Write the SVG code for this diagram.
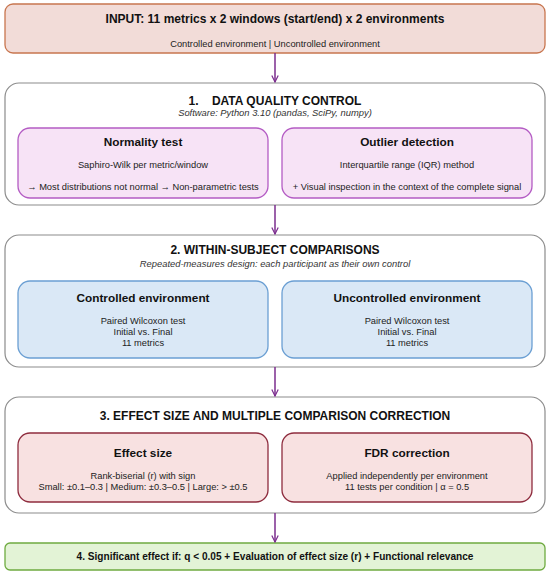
<svg xmlns="http://www.w3.org/2000/svg" width="550" height="575" viewBox="0 0 550 575">
<defs>
<marker id="arr" viewBox="0 0 10 10" refX="9" refY="5" markerWidth="8" markerHeight="8" orient="auto" markerUnits="userSpaceOnUse">
<path d="M1,1 L9,5 L1,9" fill="none" stroke="#7b2d8e" stroke-width="1.5"/>
</marker>
<style>
text{font-family:"Liberation Sans",Arial,sans-serif;text-anchor:middle;fill:#111}
.t{font-weight:bold;font-size:12px}
.h{font-weight:bold;font-size:11.8px}
.s{font-size:9.3px;fill:#222}
.i{font-size:9.4px;font-style:italic;fill:#333}
.outer{fill:#fff;stroke:#8c8c8c;stroke-width:1.2}
.pur{fill:#f7e3f6;stroke:#b45cc4;stroke-width:1.3}
.blu{fill:#dae8f6;stroke:#6b9fd3;stroke-width:1.3}
.red{fill:#f8e1e1;stroke:#8e2c3e;stroke-width:1.3}
.c{stroke:#7b2d8e;stroke-width:1.5;fill:none}
</style>
</defs>
<g id="input">
<rect x="5" y="4" width="540" height="49" rx="8" fill="#f2dcd8" stroke="#c8764f" stroke-width="1.3"/>
<text class="t" x="275" y="23">INPUT: 11 metrics x 2 windows (start/end) x 2 environments</text>
<text class="s" x="275" y="47">Controlled environment | Uncontrolled environment</text>
</g>
<g id="stage1">
<rect class="outer" x="5" y="83" width="540" height="122" rx="14"/>
<text class="t" x="275" y="105" xml:space="preserve">1.    DATA QUALITY CONTROL</text>
<text class="i" x="275" y="116">Software: Python 3.10 (pandas, SciPy, numpy)</text>
</g>
<g id="normality">
<rect class="pur" x="18" y="128" width="250" height="70" rx="12"/>
<text class="h" x="143" y="146">Normality test</text>
<text class="s" x="143" y="168">Saphiro-Wilk per metric/window</text>
<text class="s" x="143" y="190">→ Most distributions not normal → Non-parametric tests</text>
</g>
<g id="outlier">
<rect class="pur" x="282" y="128" width="250" height="70" rx="12"/>
<text class="h" x="407" y="146">Outlier detection</text>
<text class="s" x="407" y="168">Interquartile range (IQR) method</text>
<text class="s" x="407" y="190">+ Visual inspection in the context of the complete signal</text>
</g>
<g id="stage2">
<rect class="outer" x="5" y="235" width="540" height="132" rx="14"/>
<text class="t" x="275" y="254">2. WITHIN-SUBJECT COMPARISONS</text>
<text class="i" x="275" y="267">Repeated-measures design: each participant as their own control</text>
</g>
<g id="controlled">
<rect class="blu" x="18" y="281" width="250" height="77" rx="12"/>
<text class="h" x="143" y="302">Controlled environment</text>
<text class="s" x="143" y="324">Paired Wilcoxon test</text>
<text class="s" x="143" y="335">Initial vs. Final</text>
<text class="s" x="143" y="346">11 metrics</text>
</g>
<g id="uncontrolled">
<rect class="blu" x="282" y="281" width="250" height="77" rx="12"/>
<text class="h" x="407" y="302">Uncontrolled environment</text>
<text class="s" x="407" y="324">Paired Wilcoxon test</text>
<text class="s" x="407" y="335">Initial vs. Final</text>
<text class="s" x="407" y="346">11 metrics</text>
</g>
<g id="stage3">
<rect class="outer" x="5" y="397" width="540" height="116" rx="14"/>
<text class="t" x="275" y="420">3. EFFECT SIZE AND MULTIPLE COMPARISON CORRECTION</text>
</g>
<g id="effect">
<rect class="red" x="18" y="433" width="250" height="69" rx="12"/>
<text class="h" x="143" y="457">Effect size</text>
<text class="s" x="143" y="479">Rank-biserial (r) with sign</text>
<text class="s" x="143" y="490">Small: ±0.1–0.3 | Medium: ±0.3–0.5 | Large: &gt; ±0.5</text>
</g>
<g id="fdr">
<rect class="red" x="282" y="433" width="250" height="69" rx="12"/>
<text class="h" x="407" y="457">FDR correction</text>
<text class="s" x="407" y="479">Applied independently per environment</text>
<text class="s" x="407" y="490">11 tests per condition | α = 0.5</text>
</g>
<g id="result">
<rect x="5" y="543" width="540" height="27" rx="5" fill="#e3f3d6" stroke="#6fab40" stroke-width="1.3"/>
<text x="275" y="560" style="font-weight:bold;font-size:10.1px">4. Significant effect if: q &lt; 0.05 + Evaluation of effect size (r) + Functional relevance</text>
</g>
<g id="connectors">
<line class="c" x1="275" y1="53" x2="275" y2="82" marker-end="url(#arr)"/>
<line class="c" x1="275" y1="205" x2="275" y2="234" marker-end="url(#arr)"/>
<line class="c" x1="275" y1="367" x2="275" y2="396" marker-end="url(#arr)"/>
<line class="c" x1="275" y1="513" x2="275" y2="542" marker-end="url(#arr)"/>
</g>
</svg>
